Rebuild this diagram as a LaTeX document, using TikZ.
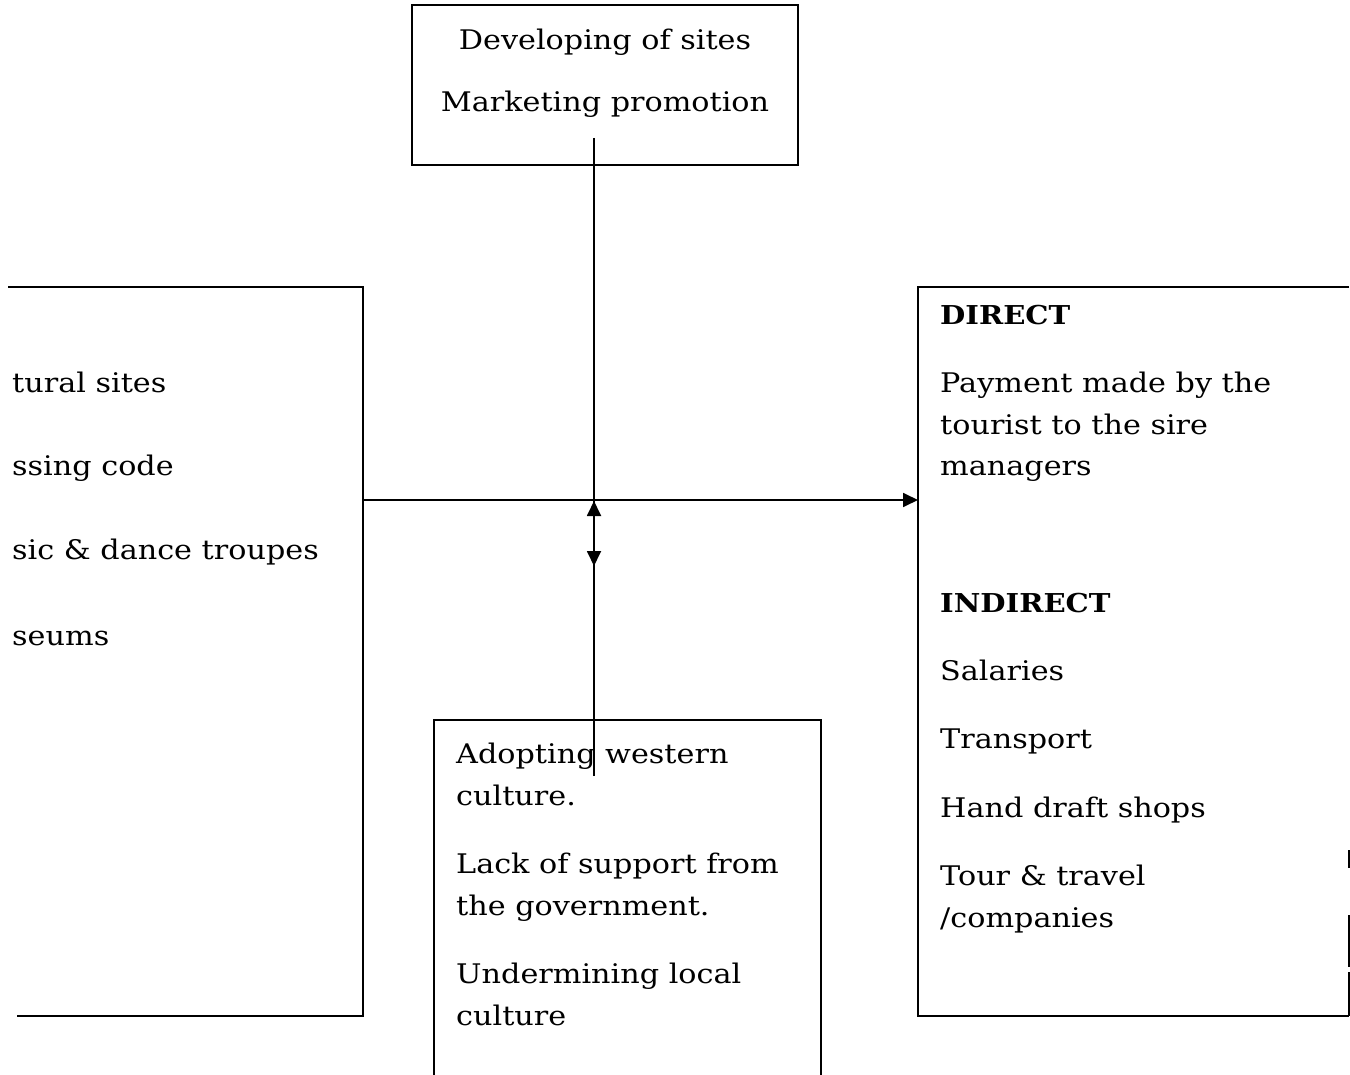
\documentclass[tikz,border=0pt]{standalone}
\usepackage{fontspec}
\setmainfont[FakeStretch=1.12]{DejaVu Serif}
\usetikzlibrary{arrows.meta}
\tikzset{
  edge/.style={line width=1.8pt, black},
  conn/.style={line width=1.8pt, black, -{Triangle[length=15pt,width=14pt]}},
  txt/.style={anchor=base west, inner sep=0pt, font=\fontsize{27}{32}\selectfont},
  ctxt/.style={anchor=base, inner sep=0pt, font=\fontsize{27}{32}\selectfont},
}
\begin{document}
\begin{tikzpicture}[x=1pt,y=-1pt]
\useasboundingbox (0,0) rectangle (1350,1075);
\fill[white] (0,0) rectangle (1350,1075);

% top box
\draw[edge] (412,5) rectangle (798,165);
\node[ctxt] (t1) at (605,50) {Developing of sites};
\node[ctxt] (t2) at (605,112) {Marketing promotion};

% left box (cropped)
\draw[edge] (8,287) -- (363,287) -- (363,1016) -- (17,1016);
\node[txt] (l1) at (12,392) {tural sites};
\node[txt] (l2) at (12,475) {ssing code};
\node[txt] (l3) at (12,559) {sic \& dance troupes};
\node[txt] (l4) at (12,645) {seums};

% right box (cropped)
\draw[edge] (1349,287) -- (918,287) -- (918,1016) -- (1349,1016);
\draw[edge] (1349,850) -- (1349,868);
\draw[edge] (1349,915) -- (1349,967);
\draw[edge] (1349,972) -- (1349,1016);
\node[txt, font=\fontsize{26}{32}\selectfont\bfseries] (r0) at (940,325) {DIRECT};
\node[txt] (r1) at (940,392) {Payment made by the};
\node[txt] (r2) at (940,434) {tourist to the sire};
\node[txt] (r3) at (940,475) {managers};
\node[txt, font=\fontsize{26}{32}\selectfont\bfseries] (r4) at (940,612) {INDIRECT};
\node[txt] (r5) at (940,680) {Salaries};
\node[txt] (r6) at (940,748) {Transport};
\node[txt] (r7) at (940,817) {Hand draft shops};
\node[txt] (r8) at (940,885) {Tour \& travel};
\node[txt] (r9) at (940,927) {/companies};

% bottom box (cropped)
\draw[edge] (434,1075) -- (434,720) -- (821,720) -- (821,1075);
\node[txt] (b1) at (456,763) {Adopting western};
\node[txt] (b2) at (456,805) {culture.};
\node[txt] (b3) at (456,873) {Lack of support from};
\node[txt] (b4) at (456,915) {the government.};
\node[txt] (b5) at (456,983) {Undermining local};
\node[txt] (b6) at (456,1025) {culture};

% connector endpoints
\coordinate (topsrc) at (594,138);
\coordinate (topend) at (594,566);
\coordinate (botsrc) at (594,776);
\coordinate (botend) at (594,501);
\coordinate (hsrc) at (363,500);
\coordinate (hend) at (918,500);

\draw[conn] (topsrc) -- (topend);
\draw[conn] (botsrc) -- (botend);
\draw[conn] (hsrc) -- (hend);
\end{tikzpicture}
\end{document}
